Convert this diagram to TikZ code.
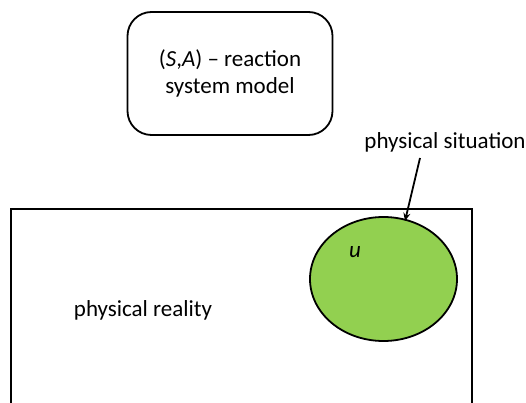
\documentclass[tikz,border=0pt]{standalone}
\usepackage{fontspec}
\setmainfont{Carlito}
\usetikzlibrary{arrows.meta,shapes.geometric}
\begin{document}
\begin{tikzpicture}[x=1pt,y=-1pt,
  lbl/.style={font=\fontsize{23}{27}\selectfont, inner sep=0pt},
  frame/.style={line width=1.8pt},
]
\useasboundingbox (0,0) rectangle (526,403);
\node[frame, draw, rounded corners=24pt, minimum width=205pt, minimum height=123pt,
  align=center, font=\fontsize{23}{27}\selectfont] (model) at (230,73.5)
  {(\textit{S},\textit{A}) – reaction\\system model};
\draw[frame] (11,403) -- (11,209) -- (472,209) -- (472,403);
\node[lbl] (reality) at (143,310) {physical reality};
\node[frame, draw, ellipse, fill={rgb,255:red,146;green,208;blue,80},
  minimum width=147pt, minimum height=124pt, inner sep=0pt] (sit) at (383.5,279) {};
\node[lbl] (u) at (355,252) {\textit{u}};
\node[lbl] (sitlabel) at (445,142) {physical situation};
\coordinate (from) at (420,158);
\coordinate (tip) at (405,221);
\draw[line width=1.8pt, -{Stealth[length=8pt,width=7pt]}] (from) -- (tip);
\end{tikzpicture}
\end{document}
